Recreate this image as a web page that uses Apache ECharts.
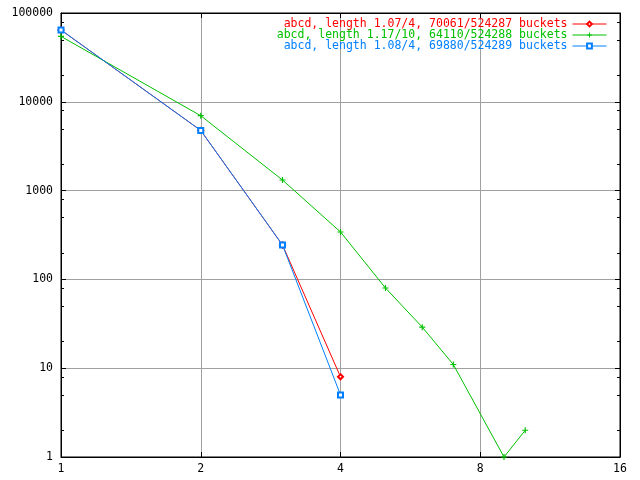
<!DOCTYPE html>
<html>
<head>
<meta charset="utf-8">
<script src="https://cdn.jsdelivr.net/npm/echarts@6/dist/echarts.min.js"></script>
<style>
html,body{margin:0;padding:0;background:#fff;}
#c{width:640px;height:480px;}
</style>
</head>
<body>
<div id="c"></div>
<script>
// ---- data ----
const seriesNames = [
  'abcd, length 1.07/4, 70061/524287 buckets',
  'abcd, length 1.17/10, 64110/524288 buckets',
  'abcd, length 1.08/4, 69880/524289 buckets'
];
const redX = [1, 2, 3, 4];
const redY = [64400, 4760, 244, 8];
const greenX = [1, 2, 3, 4, 5, 6, 7, 9, 10];
const greenY = [54500, 6970, 1316, 342, 80, 29, 11, 1, 2];
const blueX = [1, 2, 3, 4];
const blueY = [64400, 4760, 244, 5];
const yMinorTicks = [2, 5, 8, 20, 50, 80, 200, 500, 800, 2000, 5000, 8000, 20000, 50000, 80000];

const FONT = 'DejaVu Sans Mono';
const colors = ['#ff0000', '#00c000', '#0080ff'];

function pairs(xs, ys) { return xs.map((x, i) => [x, ys[i]]); }

const chart = echarts.init(document.getElementById('c'), null, {renderer: 'canvas'});

const plusPath = 'path://M4,0H6V4H10V6H6V10H4V6H0V4H4Z';

const axisCommon = {
  axisLine: {show: true, lineStyle: {color: '#000', width: 1}},
  axisTick: {show: true, inside: true, length: 5, lineStyle: {color: '#000', width: 1}},
  minorTick: {show: false}
};

const option = {
  animation: false,
  backgroundColor: '#fff',
  grid: {left: 61, top: 13, right: 20, bottom: 23, show: true, borderColor: '#000', borderWidth: 1, containLabel: false},
  legend: {
    orient: 'vertical',
    right: 33,
    top: 18,
    align: 'right',
    itemWidth: 34,
    itemHeight: 6,
    itemGap: -1,
    padding: 0,
    lineStyle: {width: 1},
    textStyle: {fontFamily: FONT, fontSize: 11.5, lineHeight: 10.6},
    data: seriesNames.map((n, i) => ({name: n, textStyle: {color: colors[i]}})),
    selectedMode: false
  },
  xAxis: [
    Object.assign({
      type: 'log', logBase: 2, min: 1, max: 16, position: 'bottom',
      axisLabel: {fontFamily: FONT, fontSize: 11.5, color: '#000', margin: 6, formatter: v => String(Math.round(v))},
      splitLine: {show: true, lineStyle: {color: '#a0a0a0', width: 1}}
    }, axisCommon),
    Object.assign({
      type: 'log', logBase: 2, min: 1, max: 16, position: 'top',
      axisLabel: {show: false},
      splitLine: {show: false}
    }, axisCommon)
  ],
  yAxis: [
    Object.assign({
      type: 'log', logBase: 10, min: 1, max: 100000, position: 'left',
      axisLabel: {fontFamily: FONT, fontSize: 11.5, color: '#000', margin: 8, formatter: v => String(Math.round(v))},
      splitLine: {show: true, lineStyle: {color: '#a0a0a0', width: 1}}
    }, axisCommon),
    Object.assign({
      type: 'log', logBase: 10, min: 1, max: 100000, position: 'right',
      axisLabel: {show: false},
      splitLine: {show: false}
    }, axisCommon)
  ],
  series: [
    {
      name: seriesNames[0], type: 'line', data: pairs(redX, redY),
      color: colors[0], lineStyle: {width: 1, color: colors[0]},
      symbol: 'emptyDiamond', symbolSize: 5, showSymbol: true,
      itemStyle: {color: colors[0], borderWidth: 1}, z: 3
    },
    {
      name: seriesNames[1], type: 'line', data: pairs(greenX, greenY),
      color: colors[1], lineStyle: {width: 1, color: colors[1]},
      symbol: plusPath, symbolSize: 6, showSymbol: true,
      itemStyle: {color: colors[1], borderWidth: 0}, z: 4
    },
    {
      name: seriesNames[2], type: 'line', data: pairs(blueX, blueY),
      color: colors[2], lineStyle: {width: 1, color: colors[2]},
      symbol: 'emptyRect', symbolSize: 5, showSymbol: true,
      itemStyle: {color: colors[2], borderWidth: 1}, z: 5
    },
    {
      type: 'custom', silent: true, clip: false, z: 6,
      data: yMinorTicks.map(v => [1, v]),
      renderItem: function (params, api) {
        const v = api.value(1);
        const l = api.coord([1, v]);
        const r = api.coord([16, v]);
        const y = Math.round(l[1]) + 0.5;
        return {
          type: 'group',
          children: [
            {type: 'line', shape: {x1: l[0], y1: y, x2: l[0] + 3, y2: y}, style: {stroke: '#000', lineWidth: 1}},
            {type: 'line', shape: {x1: r[0] - 3, y1: y, x2: r[0], y2: y}, style: {stroke: '#000', lineWidth: 1}}
          ]
        };
      }
    }
  ]
};
chart.setOption(option);
</script>
</body>
</html>
